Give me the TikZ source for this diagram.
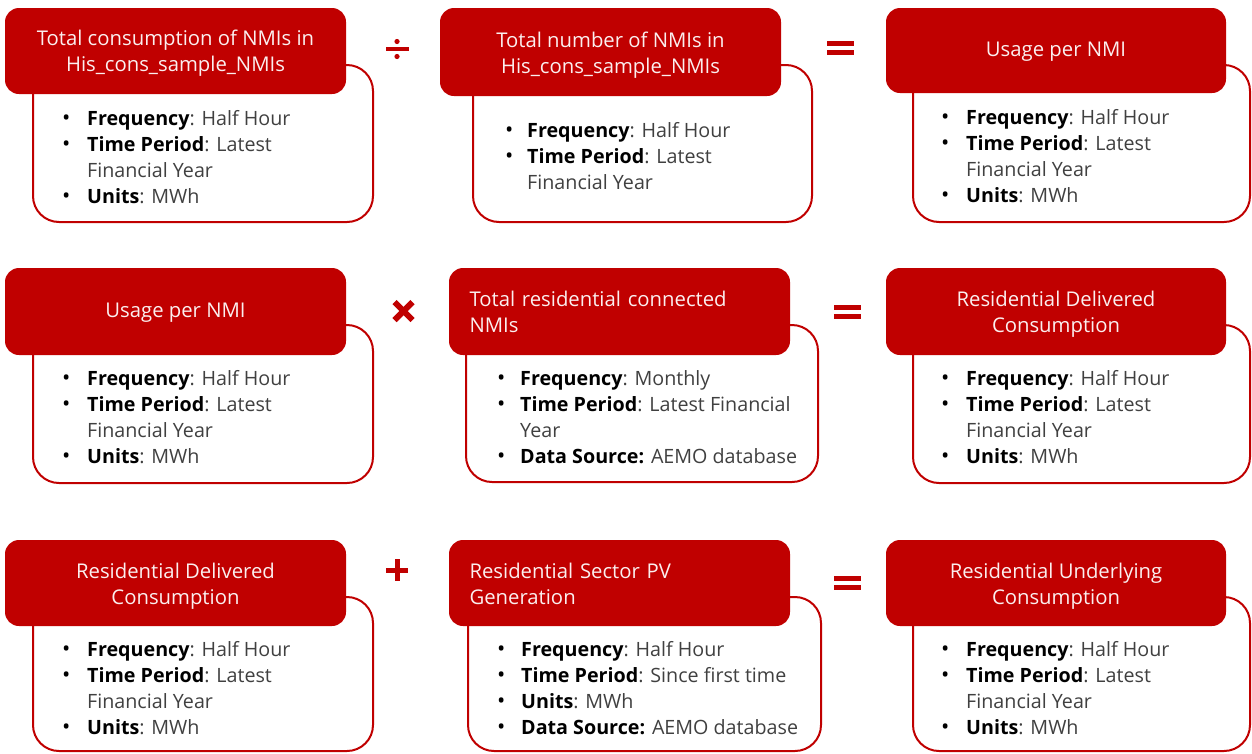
\documentclass[tikz,border=0pt]{standalone}
\usepackage{fontspec}
\setmainfont{Open Sans}
\definecolor{brand}{HTML}{C00000}
\definecolor{val}{HTML}{404040}
\definecolor{hdrtext}{HTML}{FBEFEF}
\newcommand\lb[1]{\textcolor{black}{\textbf{#1}}}
\newcommand\bl{\textcolor{black}{\fontsize{22}{26}\selectfont\textbullet}}
\tikzset{
  hdr/.style={fill=brand, rounded corners=14pt, minimum width=341pt, inner sep=0pt},
  hdrtxt/.style={text=hdrtext, inner sep=0pt, align=center, font=\fontsize{20.3}{26}\selectfont},
  hdrtxtl/.style={hdrtxt, align=left, text width=300pt},
  card/.style={draw=brand, line width=2pt, rounded corners=26pt, inner sep=0pt},
  body/.style={anchor=west, inner sep=0pt, font=\fontsize{19.7}{26}\selectfont, text=val},
  opfill/.style={fill=brand, draw=none},
}
\begin{document}
\begin{tikzpicture}[x=1pt,y=-1pt]
\useasboundingbox (0,0) rectangle (1252,753);
% ---------- card outlines ----------
\node[card, minimum width=340pt, minimum height=157pt] (b11) at (203,143.5) {};
\node[card, minimum width=339pt, minimum height=157pt] (b12) at (642.5,143.5) {};
\node[card, minimum width=337pt, minimum height=157pt] (b13) at (1081.5,143.5) {};
\node[card, minimum width=340pt, minimum height=158pt] (b21) at (203,404) {};
\node[card, minimum width=352pt, minimum height=157pt] (b22) at (642,403.5) {};
\node[card, minimum width=337pt, minimum height=158pt] (b23) at (1081.5,404) {};
\node[card, minimum width=340pt, minimum height=154pt] (b31) at (203,674) {};
\node[card, minimum width=353pt, minimum height=154pt] (b32) at (644.5,674) {};
\node[card, minimum width=337pt, minimum height=154pt] (b33) at (1081.5,674) {};
% ---------- headers ----------
\node[hdr, minimum height=86pt] (h11) at (175.5,51) {};
\node[hdr, minimum height=88pt] (h12) at (610.5,52) {};
\node[hdr, minimum width=340pt, minimum height=85pt] (h13) at (1056,50.5) {};
\node[hdr, minimum height=87pt] (h21) at (175.5,311.5) {};
\node[hdr, minimum height=87pt] (h22) at (619.5,311.5) {};
\node[hdr, minimum width=340pt, minimum height=87pt] (h23) at (1056,311.5) {};
\node[hdr, minimum height=86pt] (h31) at (175.5,583) {};
\node[hdr, minimum height=86pt] (h32) at (619.5,583) {};
\node[hdr, minimum width=340pt, minimum height=86pt] (h33) at (1056,583) {};
\node[hdrtxt] (l11) at ([yshift=-2pt]h11.center) {Total consumption of NMIs in\\His\_cons\_sample\_NMIs};
\node[hdrtxt] (l12) at ([yshift=-3pt]h12.center) {Total number of NMIs in\\His\_cons\_sample\_NMIs};
\node[hdrtxt] (l13) at ([yshift=-1pt]h13.center) {Usage per NMI};
\node[hdrtxt] (l21) at ([yshift=-1pt]h21.center) {Usage per NMI};
\node[hdrtxtl] (l22) at ([yshift=-0.5pt]h22.center) {Total residential connected\\NMIs};
\node[hdrtxt] (l23) at ([yshift=-3pt]h23.center) {Residential Delivered\\Consumption};
\node[hdrtxt] (l31) at ([yshift=-3pt]h31.center) {Residential Delivered\\Consumption};
\node[hdrtxtl] (l32) at ([yshift=-1pt]h32.center) {Residential Sector PV\\Generation};
\node[hdrtxt] (l33) at ([yshift=-3pt]h33.center) {Residential Underlying\\Consumption};
% ---------- body texts ----------
\node[body] (t11) at (62,159) {\begin{tabular}{@{}p{25pt}@{}l@{}}
\bl & \lb{Frequency}: Half Hour\\
\bl & \lb{Time Period}: Latest\\
    & Financial Year\\
\bl & \lb{Units}: MWh
\end{tabular}};
\node[body] (t12) at (505,158) {\begin{tabular}{@{}p{22pt}@{}l@{}}
\bl & \lb{Frequency}: Half Hour\\
\bl & \lb{Time Period}: Latest\\
    & Financial Year
\end{tabular}};
\node[body] (t13) at (941,158) {\begin{tabular}{@{}p{25pt}@{}l@{}}
\bl & \lb{Frequency}: Half Hour\\
\bl & \lb{Time Period}: Latest\\
    & Financial Year\\
\bl & \lb{Units}: MWh
\end{tabular}};
\node[body] (t21) at (62,419) {\begin{tabular}{@{}p{25pt}@{}l@{}}
\bl & \lb{Frequency}: Half Hour\\
\bl & \lb{Time Period}: Latest\\
    & Financial Year\\
\bl & \lb{Units}: MWh
\end{tabular}};
\node[body] (t22) at (497,419) {\begin{tabular}{@{}p{23pt}@{}l@{}}
\bl & \lb{Frequency}: Monthly\\
\bl & \lb{Time Period}: Latest Financial\\
    & Year\\
\bl & \lb{Data Source:} AEMO database
\end{tabular}};
\node[body] (t23) at (941,419) {\begin{tabular}{@{}p{25pt}@{}l@{}}
\bl & \lb{Frequency}: Half Hour\\
\bl & \lb{Time Period}: Latest\\
    & Financial Year\\
\bl & \lb{Units}: MWh
\end{tabular}};
\node[body] (t31) at (62,690) {\begin{tabular}{@{}p{25pt}@{}l@{}}
\bl & \lb{Frequency}: Half Hour\\
\bl & \lb{Time Period}: Latest\\
    & Financial Year\\
\bl & \lb{Units}: MWh
\end{tabular}};
\node[body] (t32) at (497,690) {\begin{tabular}{@{}p{24pt}@{}l@{}}
\bl & \lb{Frequency}: Half Hour\\
\bl & \lb{Time Period}: Since first time\\
\bl & \lb{Units}: MWh\\
\bl & \lb{Data Source:} AEMO database
\end{tabular}};
\node[body] (t33) at (941,690) {\begin{tabular}{@{}p{25pt}@{}l@{}}
\bl & \lb{Frequency}: Half Hour\\
\bl & \lb{Time Period}: Latest\\
    & Financial Year\\
\bl & \lb{Units}: MWh
\end{tabular}};
% ---------- operators ----------
\coordinate (div) at (397,49);
\fill[opfill] ([shift={(-11.5,-1.8)}]div) rectangle ([shift={(11.5,1.8)}]div);
\fill[opfill] ([shift={(0,-7.5)}]div) circle (2.6);
\fill[opfill] ([shift={(0,7.5)}]div) circle (2.6);
\coordinate (eq1) at (840,48);
\fill[opfill] ([shift={(-13.5,-7)}]eq1) rectangle ([shift={(13.5,-1.8)}]eq1);
\fill[opfill] ([shift={(-13.5,1.8)}]eq1) rectangle ([shift={(13.5,7)}]eq1);
\coordinate (mul) at (403.5,311);
\draw[brand, line width=6pt] ([shift={(-9,-9)}]mul) -- ([shift={(9,9)}]mul);
\draw[brand, line width=6pt] ([shift={(-9,9)}]mul) -- ([shift={(9,-9)}]mul);
\coordinate (eq2) at (847,312);
\fill[opfill] ([shift={(-13.5,-7)}]eq2) rectangle ([shift={(13.5,-1.8)}]eq2);
\fill[opfill] ([shift={(-13.5,1.8)}]eq2) rectangle ([shift={(13.5,7)}]eq2);
\coordinate (plus) at (397,570);
\draw[brand, line width=5pt] ([shift={(-11,0)}]plus) -- ([shift={(11,0)}]plus);
\draw[brand, line width=5pt] ([shift={(0,-11)}]plus) -- ([shift={(0,11)}]plus);
\coordinate (eq3) at (847,583);
\fill[opfill] ([shift={(-13.5,-7)}]eq3) rectangle ([shift={(13.5,-1.8)}]eq3);
\fill[opfill] ([shift={(-13.5,1.8)}]eq3) rectangle ([shift={(13.5,7)}]eq3);
\end{tikzpicture}
\end{document}
